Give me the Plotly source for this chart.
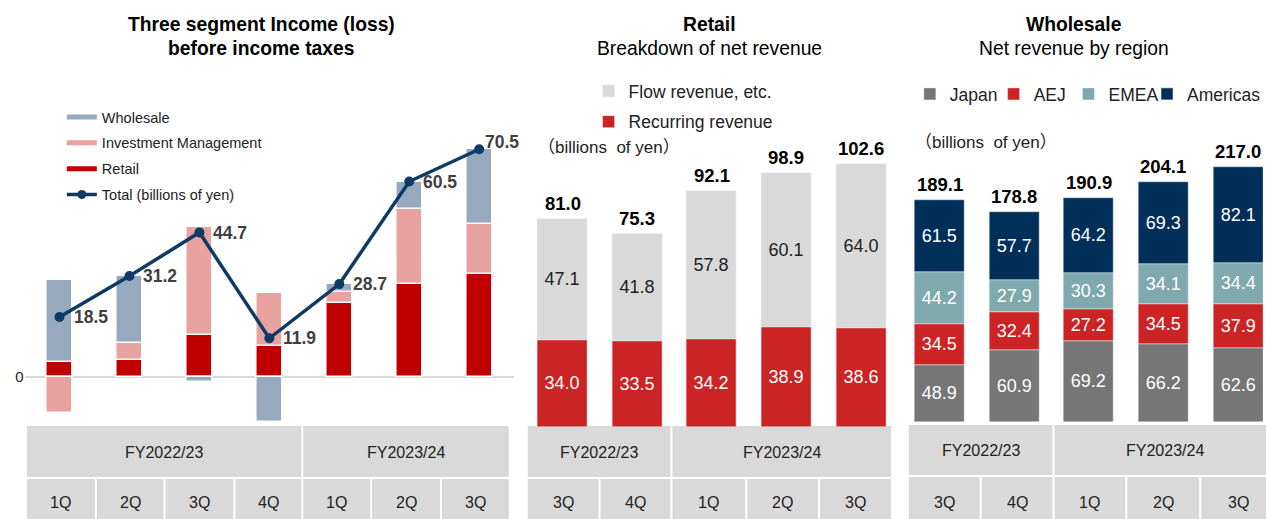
import plotly.graph_objects as go

W, H = 1266, 519
FONT = "Liberation Sans, Arial, sans-serif"
CJK = "Liberation Sans, Noto Sans CJK JP, sans-serif"

# ---------------- data ----------------
# Panel 1: three segment income (loss) before income taxes
seg_quarters = ["1Q", "2Q", "3Q", "4Q", "1Q", "2Q", "3Q"]
seg_years = ["FY2022/23", "FY2023/24"]
seg_year_span = [4, 3]
seg_retail = [4.6, 5.2, 12.9, 9.5, 22.7, 28.6, 31.7]
seg_im = [-11.4, 5.4, 33.4, 16.4, 3.6, 23.4, 15.6]
seg_wholesale = [25.3, 20.6, -1.6, -14.0, 2.4, 8.5, 23.2]
seg_total = [18.5, 31.2, 44.7, 11.9, 28.7, 60.5, 70.5]

# Panel 2: Retail breakdown of net revenue
ret_quarters = ["3Q", "4Q", "1Q", "2Q", "3Q"]
ret_years = ["FY2022/23", "FY2023/24"]
ret_year_span = [2, 3]
ret_recurring = [34.0, 33.5, 34.2, 38.9, 38.6]
ret_flow = [47.1, 41.8, 57.8, 60.1, 64.0]
ret_total = [81.0, 75.3, 92.1, 98.9, 102.6]

# Panel 3: Wholesale net revenue by region
ws_quarters = ["3Q", "4Q", "1Q", "2Q", "3Q"]
ws_years = ["FY2022/23", "FY2023/24"]
ws_year_span = [2, 3]
ws_japan = [48.9, 60.9, 69.2, 66.2, 62.6]
ws_aej = [34.5, 32.4, 27.2, 34.5, 37.9]
ws_emea = [44.2, 27.9, 30.3, 34.1, 34.4]
ws_americas = [61.5, 57.7, 64.2, 69.3, 82.1]
ws_total = [189.1, 178.8, 190.9, 204.1, 217.0]

# ---------------- styles ----------------
C_WS = "#97a9be"
C_IM = "#e8a3a1"
C_RET = "#c00000"
C_LINE = "#0f3a66"
C_FLOW = "#d9d9d9"
C_REC = "#cc2424"
C_JP = "#767676"
C_AEJ = "#cc2424"
C_EMEA = "#80a9ad"
C_AM = "#003059"
CELL = "#d9d9d9"
TITLE_SIZE = 19.3


def px(p):
    return p / W


def py(p):
    return 1 - p / H


fig = go.Figure()
annotations = []

# ---- panel 1 ----
x1 = list(range(len(seg_quarters)))
for name, vals, col in [("Retail", seg_retail, C_RET),
                        ("Investment Management", seg_im, C_IM),
                        ("Wholesale", seg_wholesale, C_WS)]:
    fig.add_trace(go.Bar(x=x1, y=vals, name=name, marker=dict(color=col, line=dict(color="white", width=1.5)),
                         width=0.375, xaxis="x", yaxis="y", showlegend=False, hoverinfo="skip"))
fig.add_trace(go.Scatter(x=x1, y=seg_total, mode="lines+markers", name="Total (billions of yen)",
                         line=dict(color=C_LINE, width=3.5), marker=dict(color=C_LINE, size=10),
                         xaxis="x", yaxis="y", showlegend=False, cliponaxis=False))
for i, v in enumerate(seg_total):
    last = i == len(seg_total) - 1
    annotations.append(dict(x=i, y=v, xref="x", yref="y", text=f"<b>{v:.1f}</b>", showarrow=False,
                            xanchor="left", yanchor="middle", xshift=4 if last else 12,
                            yshift=7 if last else 0,
                            font=dict(family=FONT, size=17.5, color="#404040")))
# legend proxies for panel 1
for name, col in [("Wholesale", C_WS), ("Investment Management", C_IM), ("Retail", C_RET)]:
    fig.add_trace(go.Scatter(x=[None], y=[None], mode="lines", name=name, line=dict(color=col, width=5),
                             xaxis="x", yaxis="y", legend="legend", legendgroup=name))
fig.add_trace(go.Scatter(x=[None], y=[None], mode="lines+markers", name="Total (billions of yen)",
                         line=dict(color=C_LINE, width=3.5), marker=dict(color=C_LINE, size=9),
                         xaxis="x", yaxis="y", legend="legend", legendgroup="total"))

# ---- panel 2 ----
x2 = list(range(len(ret_quarters)))
fig.add_trace(go.Bar(x=x2, y=ret_recurring, name="Recurring revenue", marker=dict(color=C_REC),
                     width=0.67, text=[f"{v:.1f}" for v in ret_recurring], textposition="inside",
                     insidetextanchor="middle", textangle=0,
                     textfont=dict(family=FONT, size=18, color="white"), legendrank=2,
                     xaxis="x2", yaxis="y2", legend="legend2", legendgroup="rec", hoverinfo="skip"))
fig.add_trace(go.Bar(x=x2, y=ret_flow, name="Flow revenue, etc.", marker=dict(color=C_FLOW),
                     width=0.67, text=[f"{v:.1f}" for v in ret_flow], textposition="inside",
                     insidetextanchor="middle", textangle=0,
                     textfont=dict(family=FONT, size=18, color="#222222"), legendrank=1,
                     xaxis="x2", yaxis="y2", legend="legend2", legendgroup="flow", hoverinfo="skip"))

# ---- panel 3 ----
x3 = list(range(len(ws_quarters)))
region_legend_x = [912, 996, 1071, 1150]   # px position of each region's legend entry
for k, (name, vals, col) in enumerate([("Japan", ws_japan, C_JP), ("AEJ", ws_aej, C_AEJ),
                                       ("EMEA", ws_emea, C_EMEA), ("Americas", ws_americas, C_AM)]):
    fig.add_trace(go.Bar(x=x3, y=vals, name=name, marker=dict(color=col), width=0.67,
                         text=[f"{v:.1f}" for v in vals], textposition="inside",
                         insidetextanchor="middle", textangle=0,
                         textfont=dict(family=FONT, size=18, color="white"),
                         xaxis="x3", yaxis="y3", legend=f"legend{k + 3}", hoverinfo="skip"))

# totals above bars
for i, v in enumerate(ret_total):
    annotations.append(dict(x=i, y=ret_recurring[i] + ret_flow[i], xref="x2", yref="y2",
                            text=f"<b>{v:.1f}</b>", showarrow=False, yanchor="bottom", yshift=3,
                            font=dict(family=FONT, size=18.5, color="black")))
for i, v in enumerate(ws_total):
    top = ws_japan[i] + ws_aej[i] + ws_emea[i] + ws_americas[i]
    annotations.append(dict(x=i, y=top, xref="x3", yref="y3",
                            text=f"<b>{v:.1f}</b>", showarrow=False, yanchor="bottom", yshift=3,
                            font=dict(family=FONT, size=18.5, color="black")))

# titles
for cx, l1, l2, b2 in [(262, "Three segment Income (loss)", "before income taxes", True),
                       (711, "Retail", "Breakdown of net revenue", False),
                       (1077, "Wholesale", "Net revenue by region", False)]:
    annotations.append(dict(x=px(cx), y=py(25), xref="paper", yref="paper", text=f"<b>{l1}</b>",
                            showarrow=False, xanchor="center", yanchor="middle",
                            font=dict(family=FONT, size=TITLE_SIZE, color="black")))
    annotations.append(dict(x=px(cx), y=py(49), xref="paper", yref="paper",
                            text=f"<b>{l2}</b>" if b2 else l2,
                            showarrow=False, xanchor="center", yanchor="middle",
                            font=dict(family=FONT, size=TITLE_SIZE, color="black")))

# units
annotations.append(dict(x=px(537), y=py(147), xref="paper", yref="paper", text="（billions  of yen）",
                        showarrow=False, xanchor="left", yanchor="middle",
                        font=dict(family=CJK, size=17, color="#222222")))
annotations.append(dict(x=px(915), y=py(142), xref="paper", yref="paper", text="（billions  of yen）",
                        showarrow=False, xanchor="left", yanchor="middle",
                        font=dict(family=CJK, size=17, color="#222222")))

# category tables
shapes = []


def table(q_edges, quarters, years, spans, fy_rows, q_rows):
    fy_edges = [q_edges[0]]
    k = 0
    for s in spans:
        k += s
        fy_edges.append(q_edges[k])
    for j, yname in enumerate(years):
        a, b = fy_edges[j], fy_edges[j + 1]
        shapes.append(dict(type="rect", xref="paper", yref="paper", x0=px(a + 1), x1=px(b - 1),
                           y0=py(fy_rows[1]), y1=py(fy_rows[0]), fillcolor=CELL, line=dict(width=0),
                           layer="below"))
        annotations.append(dict(x=px((a + b) / 2), y=py((fy_rows[0] + fy_rows[1]) / 2 + 0.5), xref="paper",
                                yref="paper", text=yname, showarrow=False, xanchor="center",
                                yanchor="middle", font=dict(family=FONT, size=16, color="#222222")))
    for j, q in enumerate(quarters):
        a, b = q_edges[j], q_edges[j + 1]
        shapes.append(dict(type="rect", xref="paper", yref="paper", x0=px(a + 1), x1=px(b - 1),
                           y0=py(q_rows[1]), y1=py(q_rows[0]), fillcolor=CELL, line=dict(width=0),
                           layer="below"))
        annotations.append(dict(x=px((a + b) / 2), y=py(502), xref="paper",
                                yref="paper", text=q, showarrow=False, xanchor="center",
                                yanchor="middle", font=dict(family=FONT, size=16, color="#222222")))


table([26, 96, 165, 235, 303, 372, 442, 511], seg_quarters, seg_years, seg_year_span, (426, 477), (479, 525))
table([528, 601, 673, 748, 821, 894], ret_quarters, ret_years, ret_year_span, (426, 477), (479, 525))
table([910, 983, 1056, 1129, 1203, 1280], ws_quarters, ws_years, ws_year_span, (425, 475), (477, 525))

# axes geometry
zero1, s1 = 376.7, 3.226      # px of zero, px per unit (panel 1)
top_px = 100
legend_common = dict(xanchor="left", yanchor="top", bgcolor="rgba(0,0,0,0)")
layout_legends = dict(
    legend=dict(x=px(62), y=py(101), orientation="v", traceorder="grouped", tracegroupgap=4,
                font=dict(family=FONT, size=14.5, color="#222222"), **legend_common),
    legend2=dict(x=px(590), y=py(73), orientation="v", traceorder="grouped", tracegroupgap=5,
                 font=dict(family=FONT, size=17.5, color="#222222"), **legend_common),
)
for k, lx in enumerate(region_legend_x):
    layout_legends[f"legend{k + 3}"] = dict(x=px(lx), y=py(76), orientation="h",
                                            font=dict(family=FONT, size=17.5, color="#222222"),
                                            **legend_common)

fig.update_layout(
    width=W, height=H, margin=dict(l=0, r=0, t=0, b=0),
    paper_bgcolor="white", plot_bgcolor="white",
    barmode="relative", bargap=0,
    font=dict(family=FONT, color="#222222"),
    xaxis=dict(domain=[px(24.6), px(515.4)], range=[-0.5, 6.5], visible=False),
    yaxis=dict(domain=[py(426), py(top_px)], range=[(zero1 - 426) / s1, (zero1 - top_px) / s1],
               showgrid=False, zeroline=True, zerolinecolor="#d9d9d9", zerolinewidth=2,
               tickvals=[0], ticktext=["0"], tickfont=dict(family=FONT, size=15, color="#222222"),
               showline=False, ticks=""),
    xaxis2=dict(domain=[px(526.6), px(900.4)], range=[-0.5, 4.5], visible=False),
    yaxis2=dict(domain=[py(427), py(top_px)], range=[0, (427 - top_px) / 2.565], visible=False),
    xaxis3=dict(domain=[px(904.6), 1.0], range=[-0.5, -0.5 + (W - 904.6) / 74.75], visible=False),
    yaxis3=dict(domain=[py(422), py(top_px)], range=[0, (422 - top_px) / 1.175], visible=False),
    annotations=annotations,
    shapes=shapes,
    **layout_legends,
)

fig.write_html("out.html", config={"displayModeBar": False},
               post_script="document.body.style.margin='0px';")
